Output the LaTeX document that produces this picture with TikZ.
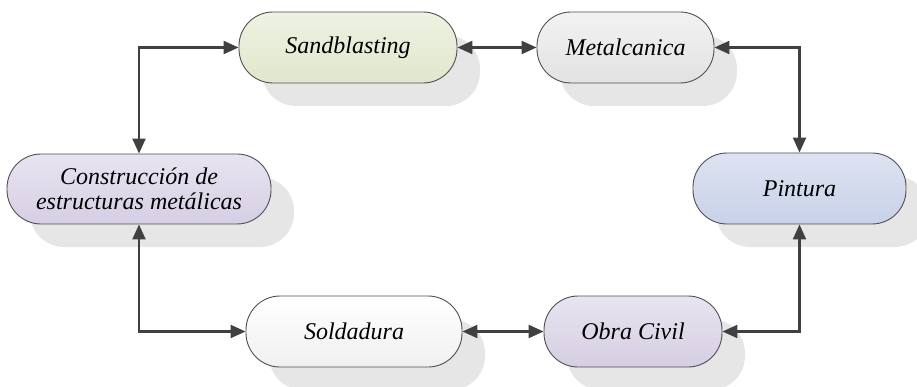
\documentclass[tikz,border=0pt]{standalone}
\usepackage{fontspec}
\setmainfont{Liberation Serif}
\usetikzlibrary{arrows.meta,shadows}
\definecolor{edge}{HTML}{505050}
\definecolor{arrc}{HTML}{404040}
\definecolor{shad}{HTML}{E6E6E6}
\tikzset{
  proc/.style={draw=edge, line width=0.9pt, rounded corners=34pt, minimum height=71pt,
    inner sep=0pt, align=center, font=\itshape\fontsize{24}{27}\selectfont,
    drop shadow={shadow xshift=23pt, shadow yshift=-23pt, fill=shad, opacity=1, draw=none}},
  arr/.style={draw=arrc, line width=2.2pt,
    {Triangle[length=15pt,width=13pt]}-{Triangle[length=15pt,width=13pt]}}
}
\begin{document}
\begin{tikzpicture}[x=1pt,y=-1pt]
\useasboundingbox (0,0) rectangle (917,387);
\node[proc, minimum width=218pt, top color={rgb,255:red,238;green,242;blue,226}, bottom color={rgb,255:red,224;green,231;blue,205}] (sand) at (348,47.5) {Sandblasting};
\node[proc, minimum width=177pt, top color={rgb,255:red,242;green,242;blue,242}, bottom color={rgb,255:red,226;green,226;blue,226}] (metal) at (625.5,47.5) {Metalcanica};
\node[proc, minimum width=213pt, top color={rgb,255:red,222;green,227;blue,242}, bottom color={rgb,255:red,200;green,209;blue,232}] (pint) at (799.5,188.5) {Pintura};
\node[proc, minimum width=264pt, minimum height=70pt, top color={rgb,255:red,232;green,228;blue,240}, bottom color={rgb,255:red,214;green,206;blue,228}] (cons) at (139,189) {Construcción de\\[-2pt]estructuras metálicas};
\node[proc, minimum width=216pt, top color={rgb,255:red,255;green,255;blue,255}, bottom color={rgb,255:red,240;green,240;blue,240}] (sold) at (354,331.5) {Soldadura};
\node[proc, minimum width=178pt, top color={rgb,255:red,232;green,228;blue,240}, bottom color={rgb,255:red,214;green,206;blue,226}] (obra) at (633,331.5) {Obra Civil};
\draw[arr] (cons.north) |- (sand.west);
\draw[arr] (sand.east) -- (metal.west);
\draw[arr] (metal.east) -| (pint.north);
\draw[arr] (cons.south) |- (sold.west);
\draw[arr] (sold.east) -- (obra.west);
\draw[arr] (obra.east) -| (pint.south);
\end{tikzpicture}
\end{document}
